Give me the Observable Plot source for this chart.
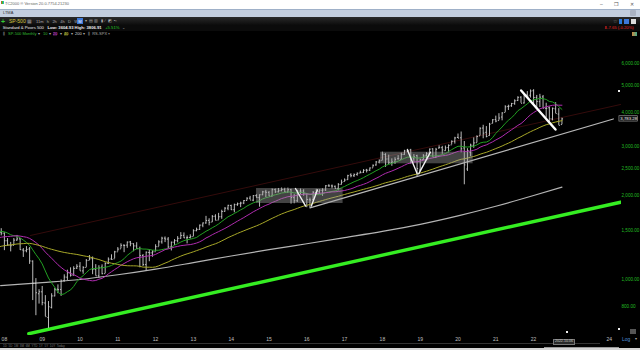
<!DOCTYPE html>
<html><head><meta charset="utf-8">
<script src="https://cdn.jsdelivr.net/npm/d3@7"></script>
<script src="https://cdn.jsdelivr.net/npm/@observablehq/plot@0.6"></script>
<style>
html,body{margin:0;padding:0;background:#000;width:640px;height:350px;overflow:hidden;font-family:"Liberation Sans",Arial,sans-serif;}
.a{position:absolute;white-space:nowrap;line-height:1;}
#chart{position:absolute;left:0;top:37px;width:640px;height:313px;}
</style></head><body>
<div id="chart"></div>
<!-- window chrome -->
<div class="a" style="left:0;top:0;width:640px;height:9px;background:#fff;"></div>
<div class="a" style="left:1px;top:1px;width:3px;height:3px;background:linear-gradient(90deg,#e33,#3c3,#39f);"></div>
<div class="a" style="left:5px;top:2px;font-size:4px;color:#666;">TC2000 ® Version 20.0.7754.21230</div>
<div class="a" style="left:600px;top:1.5px;font-size:5px;color:#555;">–</div>
<div class="a" style="left:614px;top:1.5px;font-size:5px;color:#555;">❐</div>
<div class="a" style="left:630px;top:1.5px;font-size:5px;color:#555;">✕</div>
<div class="a" style="left:0;top:9px;width:640px;height:8px;background:#c3cede;border-top:1px solid #9fb0c8;box-sizing:border-box;"></div>
<div class="a" style="left:3px;top:11px;font-size:4px;color:#333;">LTMA</div>
<div class="a" style="left:630px;top:10px;width:6px;height:6px;background:#a9b2c2;border-radius:1px"></div>
<!-- row 2 -->
<div class="a" style="left:0;top:17px;width:640px;height:8px;background:linear-gradient(#2a2a2a,#0c0c0c);"></div>
<div class="a" style="left:1px;top:17.5px;font-size:7px;font-weight:bold;color:#3c3;">+</div>
<div class="a" style="left:9px;top:19px;font-size:5px;color:#d4c63a;">SP-500</div>
<div class="a" style="left:27px;top:19px;font-size:5px;color:#999;">▦</div>
<div class="a" style="left:36px;top:19.5px;font-size:4px;color:#aaa;">11m&nbsp;&nbsp; h&nbsp;&nbsp; 2h&nbsp;&nbsp; 4h&nbsp;&nbsp; D&nbsp;&nbsp; W</div>
<div class="a" style="left:77px;top:18px;width:6px;height:6px;background:#3d78d8;"></div>
<div class="a" style="left:78.2px;top:19.5px;font-size:4px;color:#fff;">M</div>
<div class="a" style="left:85px;top:19px;font-size:4px;color:#aaa;">▾ &nbsp;▤ ▥ &nbsp;▮ &nbsp;∕ &nbsp;◩ &nbsp;▪▫</div>
<div class="a" style="left:613px;top:18.5px;font-size:5px;color:#777;">☆</div>
<div class="a" style="left:619px;top:19px;width:3px;height:5px;background:#2a7ad8;"></div>
<div class="a" style="left:624px;top:19px;width:5px;height:5px;background:#3d78d8;"></div>
<div class="a" style="left:631px;top:19px;width:5px;height:5px;background:#ddd;"></div>
<!-- row 3 -->
<div class="a" style="left:0;top:25px;width:640px;height:6px;background:#0b0b0b;"></div>
<div class="a" style="left:2.7px;top:26px;font-size:4.2px;color:#eee;">Standard &amp; Poors 500&nbsp;&nbsp; <b>Low: 3604.93 High: 3806.91</b>&nbsp;&nbsp; <span style="color:#2c2">+5.51%</span> &nbsp;<span style="color:#999">⌄</span></div>
<div class="a" style="left:604px;top:26px;font-size:4.2px;color:#e22;">⬇-7.65 (-0.20%)</div>
<!-- row 4 -->
<div class="a" style="left:3px;top:32px;font-size:4px;color:#aaa;">⫼</div>
<div class="a" style="left:8px;top:32px;font-size:4px;color:#3b3;">SP-500 Monthly <span style="color:#aaa">▾</span></div>
<div class="a" style="left:43px;top:32px;font-size:4px;color:#3b3;">10 <span style="color:#aaa">▾</span></div>
<div class="a" style="left:53px;top:32px;font-size:4px;color:#d4d;background:#301030;">20</div>
<div class="a" style="left:60px;top:32px;font-size:4px;color:#aaa;">▾</div>
<div class="a" style="left:64px;top:32px;font-size:4px;color:#dd4;background:#303010;">40</div>
<div class="a" style="left:71px;top:32px;font-size:4px;color:#aaa;">▾</div>
<div class="a" style="left:75px;top:32px;font-size:4px;color:#ddd;">200 <span style="color:#aaa">▾</span></div>
<div class="a" style="left:88px;top:32px;font-size:4px;color:#aaa;">⫼ &nbsp;RS-SPX ▾</div>
<div class="a" style="left:632px;top:32px;width:5px;height:4px;background:linear-gradient(90deg,#c84,#4a8);"></div>
<!-- footer chrome -->
<div class="a" style="left:0;top:343px;width:600px;height:1px;background:#333;"></div>
<div class="a" style="left:3px;top:344.6px;font-size:3px;color:#777;">1D&nbsp; 5D&nbsp; 1M&nbsp; 3M&nbsp; 6M&nbsp; YTD&nbsp; 1Y&nbsp; 5Y&nbsp; 10Y&nbsp; Today</div>
<div class="a" style="left:544px;top:347px;width:75px;height:1px;background:#999;"></div>
<div class="a" style="left:0;top:348px;width:640px;height:2px;background:#d4d4d4;"></div>
<div class="a" style="left:553px;top:339px;font-size:3.5px;color:#ccc;background:#2a2a2a;border:0.5px solid #777;padding:0 1px;">2022-10-06</div>
<div class="a" style="left:622px;top:336.5px;font-size:5px;color:#4d8fd6;">Log</div>
<div class="a" style="left:630px;top:328.5px;width:6px;height:5px;background:#555;"></div>
<div class="a" style="left:635px;top:337px;font-size:4px;color:#aaa;">▾</div>
<div class="a" style="left:618px;top:90px;width:2px;height:2px;background:#eee;"></div>
<div class="a" style="left:566px;top:331px;width:2px;height:2px;background:#eee;"></div>
<div class="a" style="left:618px;top:328px;width:2px;height:2px;background:#eee;"></div>
<script>
// ---- Monthly S&P 500 OHLC, Nov 2007 .. Oct 2022 ----
const opens = [1545.79,1479.63,
1467.97,1378.60,1330.45,1326.41,1385.97,1399.62,1276.69,1269.42,1287.83,1164.17,968.67,888.61,
902.99,823.09,729.57,793.59,872.74,923.26,920.82,990.22,1019.52,1054.91,1036.18,1098.89,
1116.56,1073.89,1105.36,1171.23,1188.58,1087.30,1031.10,1107.53,1049.72,1143.49,1185.71,1186.60,
1257.62,1289.14,1328.64,1329.48,1365.21,1345.20,1320.64,1292.59,1219.12,1131.21,1251.00,1246.91,
1258.86,1312.45,1365.90,1408.47,1397.86,1309.87,1362.33,1379.32,1406.54,1440.90,1412.20,1416.18,
1426.19,1498.11,1514.68,1569.18,1597.55,1631.71,1609.78,1689.42,1635.95,1682.41,1758.70,1806.55,
1845.86,1782.68,1857.68,1873.96,1884.39,1923.87,1962.29,1929.80,2004.07,1971.44,2018.21,2065.78,
2058.90,1996.67,2105.23,2067.63,2087.38,2108.64,2067.00,2104.49,1970.09,1919.65,2080.76,2082.93,
2038.20,1936.94,1937.09,2056.62,2067.17,2093.94,2099.34,2173.15,2171.33,2164.33,2128.68,2200.17,
2251.57,2285.59,2380.13,2362.34,2388.50,2415.65,2431.39,2477.10,2474.42,2521.20,2583.21,2645.10,
2683.73,2816.45,2715.22,2633.45,2642.96,2718.70,2704.95,2821.17,2896.96,2926.29,2717.58,2790.50,
2476.96,2702.32,2798.22,2848.63,2952.33,2751.53,2971.41,2980.32,2909.01,2983.69,3050.72,3143.85,
3244.67,3235.66,2974.28,2498.08,2869.09,3038.78,3105.92,3288.26,3507.44,3385.87,3296.20,3645.87,
3764.61,3731.17,3842.51,3992.78,4191.98,4216.52,4300.73,4406.86,4528.80,4317.16,4610.62,4602.82,
4778.14,4519.57,4363.14,4540.32,4130.61,4149.78,3781.00,4112.38,3936.73,3609.78];
const highs = [1545.79,1523.57,
1471.77,1404.05,1359.68,1404.57,1440.24,1404.05,1292.17,1313.15,1303.04,1167.03,1007.51,918.85,
943.85,875.01,832.98,888.70,930.17,956.23,996.68,1039.47,1080.15,1101.36,1111.10,1130.38,
1150.45,1112.42,1180.16,1219.80,1205.13,1131.23,1120.95,1129.24,1148.90,1196.14,1227.08,1262.60,
1302.67,1344.07,1332.28,1364.56,1370.58,1345.20,1356.48,1307.38,1229.29,1256.55,1277.55,1269.37,
1333.47,1378.04,1419.15,1422.38,1415.32,1363.46,1391.74,1426.68,1474.51,1470.96,1434.27,1448.00,
1509.94,1530.94,1570.28,1597.57,1687.18,1654.19,1698.78,1709.67,1729.86,1775.22,1813.55,1849.44,
1850.84,1867.92,1883.97,1897.28,1924.03,1968.17,1991.39,2005.04,2019.26,2018.05,2075.76,2093.55,
2072.36,2119.59,2117.52,2125.92,2134.72,2129.87,2132.82,2112.66,2020.86,2094.32,2116.48,2104.27,
2038.20,1962.96,2072.21,2111.05,2103.48,2120.55,2177.09,2193.81,2187.87,2169.60,2214.10,2277.53,
2300.99,2371.54,2400.98,2398.16,2418.71,2453.82,2484.04,2490.87,2519.44,2582.98,2657.74,2694.97,
2872.87,2835.96,2801.90,2717.49,2742.24,2791.47,2848.03,2916.50,2940.91,2939.86,2815.15,2800.18,
2708.95,2813.49,2860.31,2949.52,2954.13,2964.15,3027.98,3013.59,3021.99,3050.10,3154.26,3247.93,
3337.77,3393.52,3136.72,2954.86,3068.67,3233.13,3287.61,3514.77,3588.11,3549.85,3645.99,3760.20,
3870.90,3950.43,3983.87,4218.78,4238.04,4302.43,4429.97,4545.85,4545.85,4608.08,4743.83,4808.93,
4818.62,4595.31,4637.30,4593.45,4307.66,4177.51,4140.15,4325.28,4119.28,3806.91];
const lows = [1406.10,1435.65,
1270.05,1316.75,1256.98,1324.35,1373.07,1272.00,1200.44,1247.45,1133.50,839.80,741.02,815.69,
804.30,734.52,666.79,783.32,866.10,888.86,869.32,978.51,991.97,1020.18,1029.38,1085.89,
1071.59,1044.50,1105.36,1170.69,1040.78,1028.33,1010.91,1039.70,1049.72,1131.87,1173.00,1186.60,
1257.62,1289.14,1249.05,1294.70,1311.80,1258.07,1282.86,1101.54,1114.22,1074.77,1158.66,1202.37,
1258.86,1312.45,1340.03,1357.38,1291.98,1266.74,1325.41,1354.65,1396.56,1403.28,1343.35,1398.11,
1426.19,1485.01,1501.48,1536.03,1581.28,1560.33,1604.57,1627.47,1633.41,1646.47,1746.20,1767.99,
1770.45,1737.92,1834.44,1814.36,1859.79,1915.98,1930.67,1904.78,1964.04,1820.66,2001.01,1972.56,
1988.12,1980.90,2039.69,2048.38,2067.93,2056.32,2044.02,1867.01,1871.91,1893.70,2019.39,1993.26,
1812.29,1810.10,1937.09,2033.80,2025.91,1991.68,2074.02,2147.58,2119.12,2114.72,2083.79,2187.44,
2245.13,2271.65,2322.25,2328.95,2352.72,2405.70,2407.70,2417.35,2446.55,2520.40,2557.45,2605.52,
2682.36,2532.69,2585.89,2553.80,2594.62,2691.99,2698.95,2796.34,2864.12,2603.54,2631.09,2346.58,
2443.96,2681.83,2722.27,2848.63,2750.52,2728.81,2952.22,2822.12,2891.85,2855.94,3050.72,3070.33,
3214.64,2855.84,2191.86,2447.49,2766.64,2965.66,3101.17,3284.53,3209.45,3233.94,3279.74,3633.40,
3662.71,3725.62,3723.34,3992.78,4056.88,4164.40,4233.13,4367.73,4305.91,4278.94,4560.00,4495.12,
4222.62,4114.65,4157.87,4124.28,3810.32,3636.87,3721.56,3954.53,3584.13,3604.93];
const closes = [1481.14,1468.36,
1378.55,1330.63,1322.70,1385.59,1400.38,1280.00,1267.38,1282.83,1166.36,968.75,896.24,903.25,
825.88,735.09,797.87,872.81,919.14,919.32,987.48,1020.62,1057.08,1036.19,1095.63,1115.10,
1073.87,1104.49,1169.43,1186.69,1089.41,1030.71,1101.60,1049.33,1141.20,1183.26,1180.55,1257.64,
1286.12,1327.22,1325.83,1363.61,1345.20,1320.64,1292.28,1218.89,1131.42,1253.30,1246.96,1257.60,
1312.41,1365.68,1408.47,1397.91,1310.33,1362.16,1379.32,1406.58,1440.67,1412.16,1416.18,1426.19,
1498.11,1514.68,1569.19,1597.57,1630.74,1606.28,1685.73,1632.97,1681.55,1756.54,1805.81,1848.36,
1782.59,1859.45,1872.34,1883.95,1923.57,1960.23,1930.67,2003.37,1972.29,2018.05,2067.56,2058.90,
1994.99,2104.50,2067.89,2085.51,2107.39,2063.11,2103.84,1972.18,1920.03,2079.36,2080.41,2043.94,
1940.24,1932.23,2059.74,2065.30,2096.95,2098.86,2173.60,2170.95,2168.27,2126.15,2198.81,2238.83,
2278.87,2363.64,2362.72,2384.20,2411.80,2423.41,2470.30,2471.65,2519.36,2575.26,2647.58,2673.61,
2823.81,2713.83,2640.87,2648.05,2705.27,2718.37,2816.29,2901.52,2913.98,2711.74,2760.17,2506.85,
2704.10,2784.49,2834.40,2945.83,2752.06,2941.76,2980.38,2926.46,2976.74,3037.56,3140.98,3230.78,
3225.52,2954.22,2584.59,2912.43,3044.31,3100.29,3271.12,3500.31,3363.00,3269.96,3621.63,3756.07,
3714.24,3811.15,3972.89,4181.17,4204.11,4297.50,4395.26,4522.68,4307.54,4605.38,4567.00,4766.18,
4515.55,4373.94,4530.41,4131.93,4132.15,3785.38,4130.29,3955.00,3585.62,3783.28];
// closes Jan 2004 .. Oct 2007 (only used to seed the moving averages)
const warmupCloses = [1131.13,1144.94,1126.21,1107.30,1120.68,1140.84,1101.72,1104.24,1114.58,1130.20,1173.82,1211.92,
1181.27,1203.60,1180.59,1156.85,1191.50,1191.33,1234.18,1220.33,1228.81,1207.01,1249.48,1248.29,
1280.08,1280.66,1294.87,1310.61,1270.09,1270.20,1276.66,1303.82,1335.85,1377.94,1400.63,1418.30,
1438.24,1406.82,1420.86,1482.37,1530.62,1503.35,1455.27,1473.99,1526.75,1549.38];
// 200-period average [year, value]
const ma200 = [[2007.9,951],[2009,975],[2010,1000],[2011,1040],[2012,1090],[2013,1150],[2014,1215],[2015,1280],
[2016,1345],[2017,1415],[2018,1490],[2019,1580],[2020,1695],[2021,1835],[2022,2005],[2022.75,2150]];
// drawn annotations [year, value]
const greenTrend = [[2008.645,638],[2024.3,1897]];
const maroonLine = [[2008.69,1440],[2024.3,4263]];
const greyTrend = [[2016.083,1810],[2024.11,3781]];
const whiteTrend = [[2021.67,4787],[2022.58,3465]];
const vStrokes = [
  [[2015.70,2125],[2015.97,1838]], [[2016.12,1838],[2016.28,2099]],
  [[2018.66,2929],[2018.92,2400]], [[2018.96,2400],[2019.27,2871]]];
const boxes = [{x1:2014.67,x2:2016.96,y1:1877,y2:2125},{x1:2017.95,x2:2020.40,y1:2608,y2:2871}];
const yTicks = [800,1000,1500,2000,2500,3000,4000,5000,6000];
const xTicks = [2008,2009,2010,2011,2012,2013,2014,2015,2016,2017,2018,2019,2020,2021,2022,2024];
const maPeriods = [10,20,40];
const maColors = ["#22a022","#b02cb0","#a8a828"];

const bars = closes.map((c,i)=>({t:2007+10/12+i/12, open:opens[i], high:highs[i], low:lows[i], close:c}));
const allCloses = warmupCloses.map((c,i)=>({t:2004+i/12,c})).concat(bars.map(b=>({t:b.t,c:b.close})));
const tk = 1.1/37.8;
const last = closes[closes.length-1];

const chart = Plot.plot({
  width:640, height:313,
  marginLeft:0, marginRight:19, marginTop:0, marginBottom:15,
  style:{background:"#000", color:"#c0c0c0", fontFamily:"Liberation Sans, Arial, sans-serif", overflow:"visible"},
  x:{type:"linear", domain:[2009,2024], range:[41.7,608.7]},
  y:{type:"log", domain:[1000,6000], range:[242,25.74]},
  marks:[
    Plot.line(maroonLine,{stroke:"#4a1010", strokeWidth:0.7, clip:true}),
    Plot.line(ma200,{stroke:"#b4b4b4", strokeWidth:1.2, curve:"monotone-x", clip:true}),
    Plot.line(greyTrend,{stroke:"#b8b8b8", strokeWidth:1.2, clip:true}),
    Plot.line(greenTrend,{stroke:"#35ee22", strokeWidth:3.4, clip:true}),
    Plot.ruleX(bars,{x:"t", y1:"low", y2:"high", stroke:"#cfcfcf", strokeWidth:0.9, clip:true}),
    Plot.link(bars,{x1:d=>d.t-tk, x2:"t", y1:"open", y2:"open", stroke:"#cfcfcf", strokeWidth:0.9, clip:true}),
    Plot.link(bars,{x1:"t", x2:d=>d.t+tk, y1:"close", y2:"close", stroke:"#cfcfcf", strokeWidth:0.9, clip:true}),
    ...maPeriods.map((k,i)=>Plot.lineY(allCloses, Plot.windowY({k, anchor:"end"}, {x:"t", y:"c", stroke:maColors[i], strokeWidth:1, clip:true}))),
    Plot.rect(boxes,{x1:"x1", x2:"x2", y1:"y1", y2:"y2", fill:"#a0a0a0", fillOpacity:0.42, clip:true}),
    ...vStrokes.map(s=>Plot.line(s,{stroke:"#f0f0f0", strokeWidth:1.4, clip:true})),
    Plot.line(whiteTrend,{stroke:"#ffffff", strokeWidth:2.4, clip:true}),
    Plot.axisX({ticks:xTicks, tickFormat:d=>String(d).slice(2), tickSize:0, tickPadding:1.5, fontSize:5, color:"#c0c0c0"}),
    Plot.axisY({anchor:"right", ticks:yTicks, tickFormat:d3.format(",.2f"), tickSize:0, tickPadding:0, fontSize:4.6, color:"#22bb22"}),
    Plot.rect([last],{x1:2024.27, x2:2024.76, y1:d=>d*Math.exp(-2.7/120.7), y2:d=>d*Math.exp(2.7/120.7), fill:"#151515", stroke:"#999", strokeWidth:0.6}),
    Plot.text([last],{x:2024.515, y:d=>d, text:d=>d3.format(",.2f")(d), fill:"#e8e8e8", fontSize:4.3})
  ]
});
document.getElementById("chart").appendChild(chart);
</script>
</body></html>
